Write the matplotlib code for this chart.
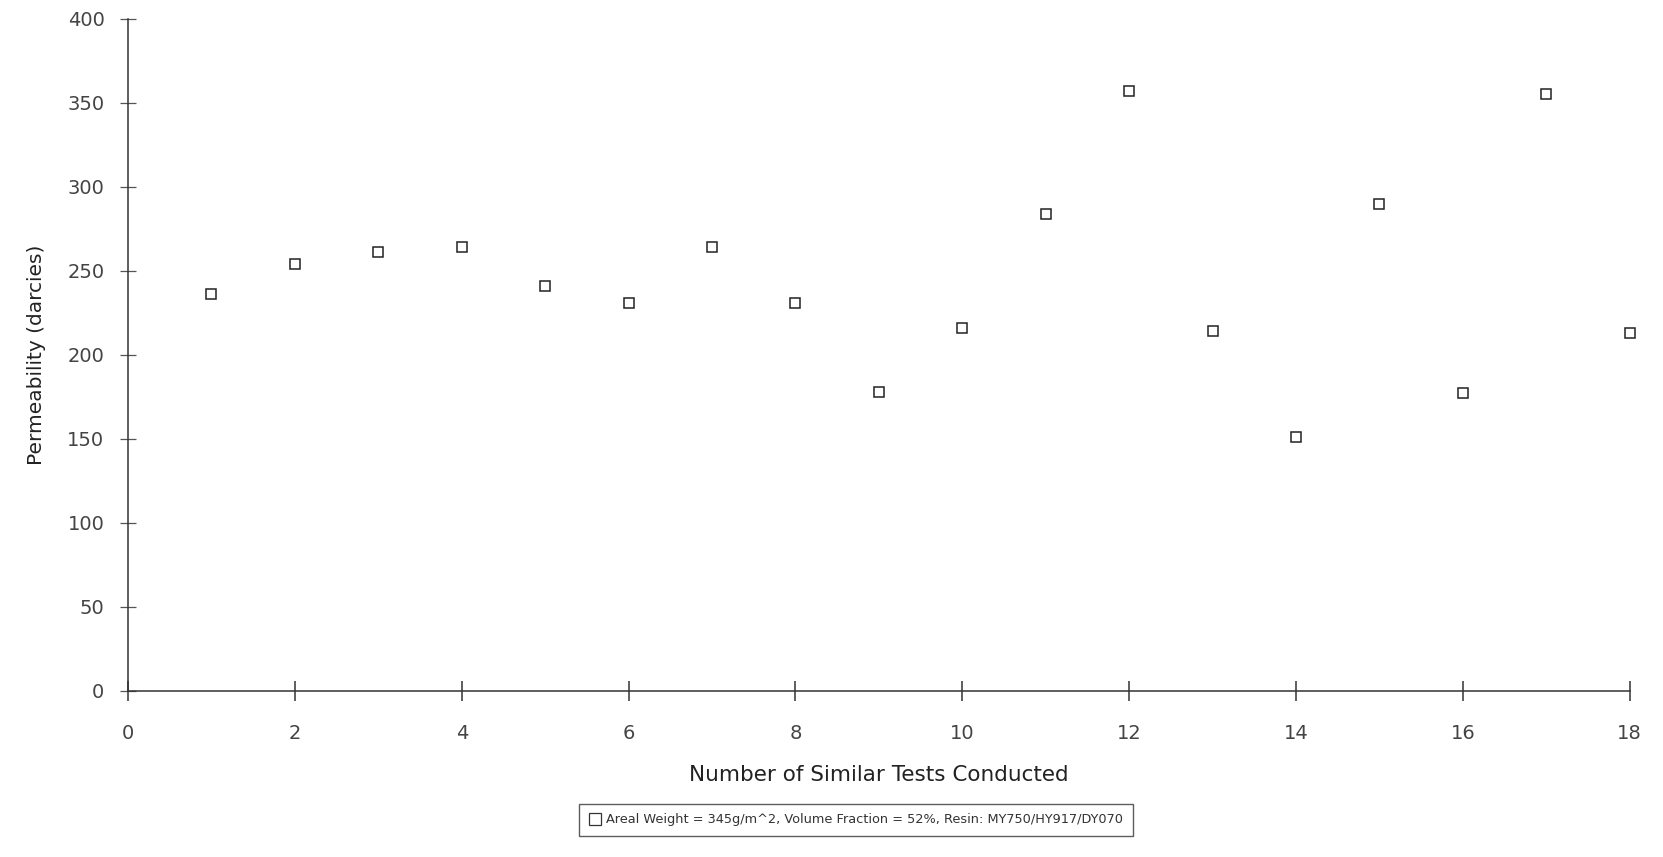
import matplotlib
matplotlib.use("Agg")
import matplotlib.pyplot as plt
from matplotlib.lines import Line2D

tests = list(range(1, 19))
permeability = [236, 254, 261, 264, 241, 231, 264, 231, 178, 216,
                284, 357, 214, 151, 290, 177, 355, 213]
x_ticks = [0, 2, 4, 6, 8, 10, 12, 14, 16, 18]
y_ticks = [0, 50, 100, 150, 200, 250, 300, 350, 400]
legend_label = "Areal Weight = 345g/m^2, Volume Fraction = 52%, Resin: MY750/HY917/DY070"

plt.rcParams['font.family'] = ['DejaVu Sans']

fig = plt.figure(figsize=(16.63, 8.57), dpi=100)
ax = fig.add_axes([0.077, 0.194, 0.903, 0.784])

ax.plot(tests, permeability, linestyle='none', marker='s', markersize=6.5,
        markerfacecolor='white', markeredgecolor='#222222', markeredgewidth=1.1,
        clip_on=False)

ax.set_xlim(0, 18)
ax.set_ylim(0, 400)
ax.set_xticks(x_ticks)
ax.set_yticks(y_ticks)
for s in ['top', 'right']:
    ax.spines[s].set_visible(False)
for s in ['left', 'bottom']:
    ax.spines[s].set_color('#333333')
    ax.spines[s].set_linewidth(1.1)

ax.tick_params(axis='x', direction='inout', length=14, width=1.1, color='#333333',
               labelsize=14, labelcolor='#444444', pad=17)
ax.tick_params(axis='y', direction='inout', length=12, width=0.9, color='#555555',
               labelsize=14, labelcolor='#444444', pad=11)

ax.set_xlabel("Number of Similar Tests Conducted", fontsize=15.5, color='#222222',
              labelpad=15.5, fontweight='medium')
fig.text(0.022, 0.586, "Permeability (darcies)", rotation=90, fontsize=14.5,
         color='#222222', ha='center', va='center', fontweight='medium')

handle = Line2D([], [], linestyle='none', marker='s', markersize=8,
                markerfacecolor='white', markeredgecolor='#333333', markeredgewidth=0.9)
leg = fig.legend([handle], [legend_label], loc='center',
                 bbox_to_anchor=(0.5147, 0.0435), fontsize=9.3, frameon=True,
                 fancybox=False, borderpad=0.75, handletextpad=0.4, handlelength=1.0,
                 borderaxespad=0)
leg.get_frame().set_edgecolor('#333333')
leg.get_frame().set_linewidth(1.0)
for t in leg.get_texts():
    t.set_color('#333333')

fig.savefig("out.png", dpi=100, facecolor='white')
